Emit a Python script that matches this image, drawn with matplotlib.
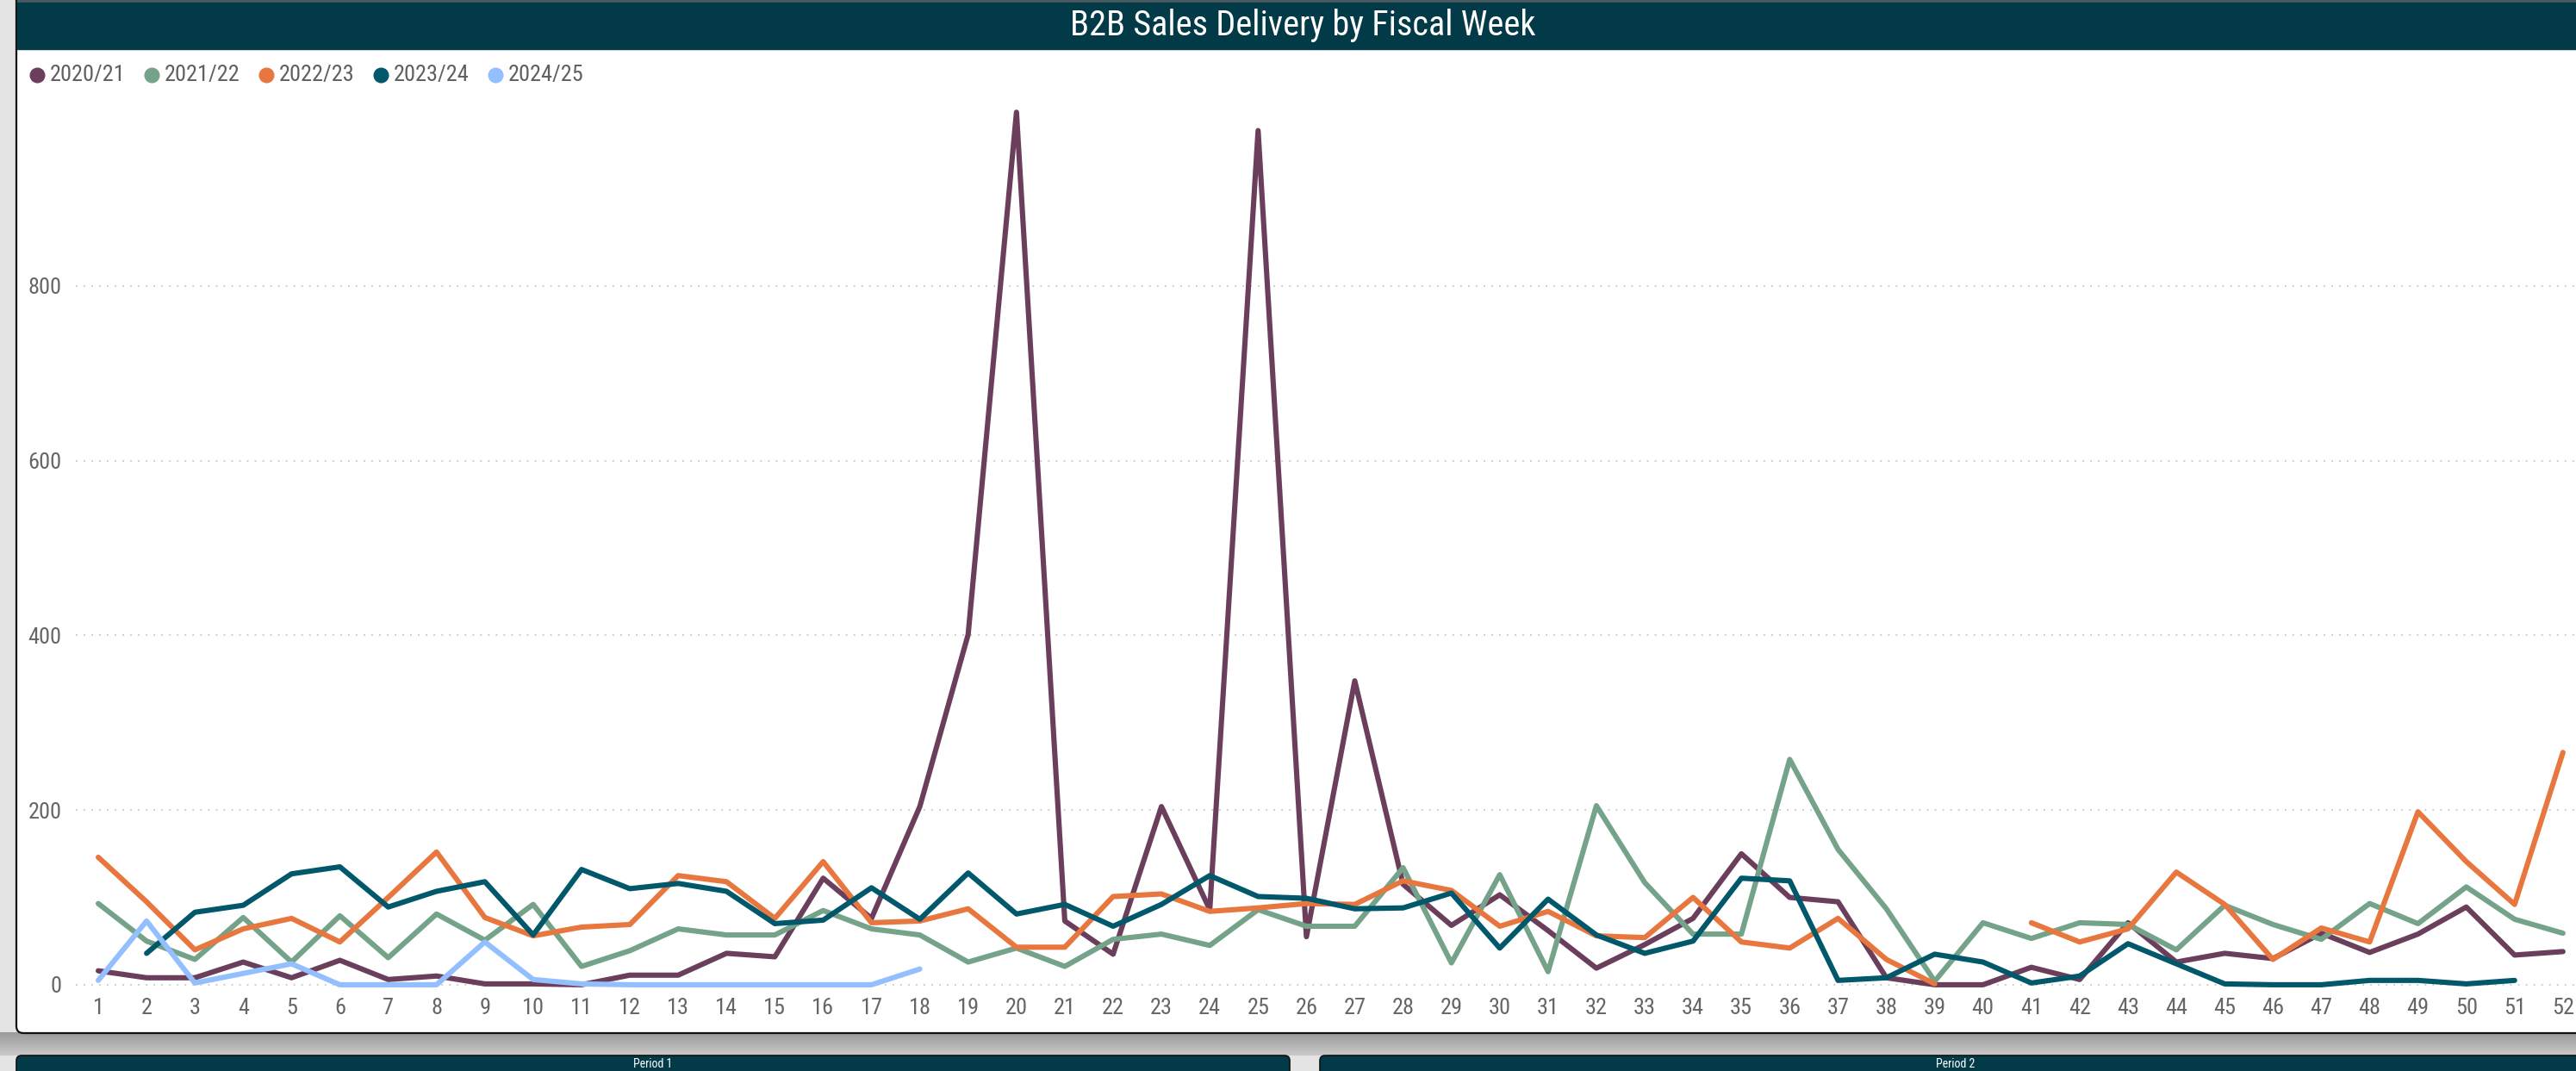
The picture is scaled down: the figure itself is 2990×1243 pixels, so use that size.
import numpy as np
import matplotlib
matplotlib.use("Agg")
import matplotlib.pyplot as plt
from matplotlib import font_manager
from matplotlib.patches import Rectangle, FancyBboxPatch

nan = np.nan

# ---------------- data ----------------
weeks = list(range(1, 53))
series_names = ["2020/21", "2021/22", "2022/23", "2023/24", "2024/25"]

y2020_21 = [16, 8, 8, 26, 8, 28, 6, 10, 1, 1, 0, 11, 11,
            36, 32, 122, 76, 204, 401, 999, 73, 35, 204, 86, 978,
            55, 348, 115, 68, 103, 62, 19, 46, 76, 150, 100, 95,
            8, 0, 0, 20, 6, 71, 26, 36, 30, 59, 37, 58, 89, 34, 38]
y2021_22 = [93, 50, 29, 77, 26, 79, 31, 81, 51, 92, 21, 39, 64,
            57, 57, 85, 64, 57, 26, 42, 21, 52, 58, 45, 86,
            67, 67, 134, 25, 126, 15, 205, 117, 58, 58, 258, 155,
            87, 4, 71, 53, 71, 69, 40, 91, 69, 52, 93, 70, 112, 75, 59]
y2022_23 = [146, 95, 40, 64, 76, 49, 100, 152, 77, 56, 66, 69, 125,
            118, 76, 141, 71, 73, 87, 43, 43, 101, 104, 84, 88,
            93, 92, 119, 108, 67, 84, 56, 54, 100, 49, 42, 76,
            29, 1, nan, 71, 49, 64, 129, 92, 29, 65, 49, 198, 141, 92, 266]
y2023_24 = [nan, 36, 83, 91, 127, 135, 89, 107, 118, 57, 132, 110, 116,
            107, 70, 74, 111, 75, 128, 81, 92, 67, 92, 125, 101,
            99, 87, 88, 105, 42, 98, 57, 36, 50, 122, 119, 5,
            8, 35, 26, 2, 10, 47, 24, 1, 0, 0, 5, 5, 1, 5, nan]
y2024_25 = [5, 73, 2, 13, 24, 0, 0, 0, 49, 6, 1, 0, 0, 0, 0, 0, 0, 18] + [nan] * 34

y_ticks = [0, 200, 400, 600, 800]
title_text = "B2B Sales Delivery by Fiscal Week"
period_titles = ["Period 1", "Period 2"]

colors = ["#6B3F5B", "#74A38A", "#E8773F", "#02586B", "#94BFFF"]
all_series = [y2020_21, y2021_22, y2022_23, y2023_24, y2024_25]

# ---------------- fonts ----------------
available = {f.name for f in font_manager.fontManager.ttflist}
def pick(*cands):
    for c in cands:
        if c in available:
            return c
    return "DejaVu Sans"
narrow = pick("Liberation Sans Narrow", "Roboto Condensed", "Open Sans Condensed", "Roboto")
plt.rcParams["font.family"] = [narrow, "DejaVu Sans"]

W, H = 2990, 1243
DPI = 100
fig = plt.figure(figsize=(W / DPI, H / DPI), dpi=DPI)
fig.patch.set_facecolor("#e6e6e6")

# background axes in pixel coordinates (y downward)
bg = fig.add_axes([0, 0, 1, 1])
bg.set_xlim(0, W)
bg.set_ylim(H, 0)
bg.axis("off")
bg.set_zorder(0)

bg.add_patch(Rectangle((0, 0), W, H, color="#e4e4e4", zorder=0))
grad = np.linspace(0, 1, 50).reshape(-1, 1)
bg.imshow(grad, extent=(0, W, 1225, 1198), cmap=matplotlib.colors.LinearSegmentedColormap.from_list(
    "sh", ["#9a9a9a", "#c9c9c9"]), aspect="auto", zorder=0.5)

# card
card = FancyBboxPatch((19, -20), W + 40, 1219, boxstyle="round,pad=0,rounding_size=8",
                      facecolor="white", edgecolor="#111111", linewidth=1.6, zorder=1)
bg.add_patch(card)
# title bar
bg.add_patch(Rectangle((20, 0), W, 3, color="#4a5a60", zorder=2))
bg.add_patch(Rectangle((20, 3), W, 54, color="#023A47", zorder=2))
bg.text(1512, 29, title_text, color="white", fontsize=29, ha="center", va="center", zorder=3)

# period bars at bottom
bg.add_patch(FancyBboxPatch((19, 1225), 1478, 40, boxstyle="round,pad=0,rounding_size=6",
                            facecolor="#023A47", edgecolor="#111111", linewidth=1.2, zorder=2))
bg.add_patch(FancyBboxPatch((1532, 1225), 1500, 40, boxstyle="round,pad=0,rounding_size=6",
                            facecolor="#023A47", edgecolor="#111111", linewidth=1.2, zorder=2))
bg.text(758, 1235, period_titles[0], color="white", fontsize=10, ha="center", va="center", zorder=3)
bg.text(2270, 1235, period_titles[1], color="white", fontsize=10, ha="center", va="center", zorder=3)

# legend
leg_x0 = 43
leg_step = 133
for i, (name, col) in enumerate(zip(series_names, colors)):
    cx = leg_x0 + i * leg_step
    bg.plot([cx], [87], marker="o", markersize=12, color=col, linestyle="none", zorder=3)
    bg.text(cx + 15, 87, name, color="#5f5f5f", fontsize=19, ha="left", va="center", zorder=3)

# ---------------- main plot ----------------
ax_left, ax_right = 88, W
ax_top, ax_bottom = 110, 1150
ax = fig.add_axes([ax_left / W, 1 - ax_bottom / H, (ax_right - ax_left) / W, (ax_bottom - ax_top) / H])
ax.set_zorder(2)
ax.patch.set_alpha(0)

for vals, col in zip(all_series, colors):
    ax.plot(weeks, vals, color=col, linewidth=4.4, solid_joinstyle="round",
            solid_capstyle="round", zorder=3, clip_on=False)

ax.set_xlim(0.536, 52.27)
ax.set_ylim(-7, 1019)
ax.set_yticks(y_ticks)
ax.set_xticks(weeks)
ax.set_xticklabels([str(w) for w in weeks])
ax.grid(axis="y", color="#c8c8c8", linestyle=(0, (1, 4)), linewidth=1.3)
ax.grid(axis="x", visible=False)
for s in ax.spines.values():
    s.set_visible(False)
ax.tick_params(axis="both", length=0, labelcolor="#666666", labelsize=19)
ax.tick_params(axis="x", pad=6)
ax.tick_params(axis="y", pad=12)

fig.savefig("out.png", dpi=DPI)
